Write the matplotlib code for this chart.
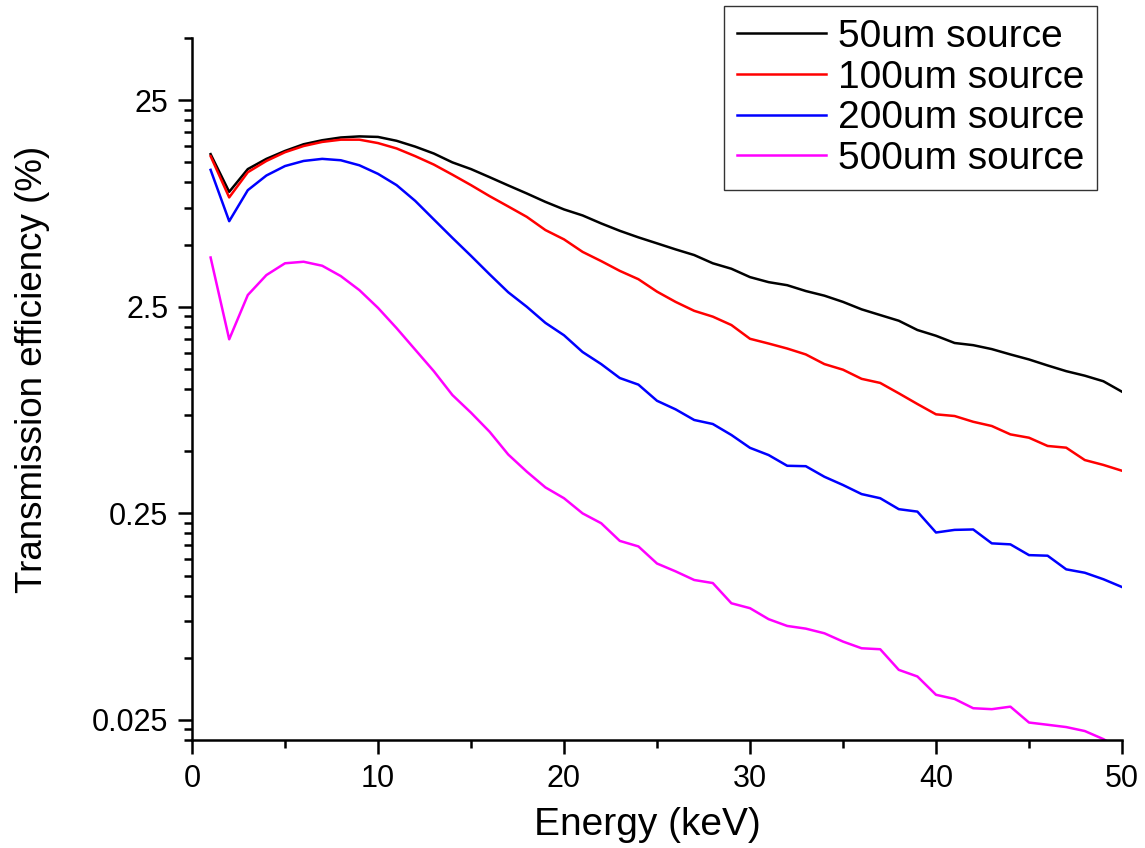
import matplotlib
matplotlib.use('Agg')
import matplotlib.pyplot as plt
from matplotlib.ticker import FixedLocator, NullFormatter

plt.rcParams['font.family'] = ['Liberation Sans', 'DejaVu Sans']

energy = list(range(1, 51))

src_50um = [13.7, 9.0, 11.6, 13.0, 14.2, 15.3, 16.0, 16.5, 16.7, 16.6,
            15.9, 14.9, 13.8, 12.5, 11.6, 10.6, 9.67, 8.84, 8.05, 7.40,
            6.92, 6.33, 5.83, 5.42, 5.07, 4.74, 4.45, 4.06, 3.82, 3.48,
            3.29, 3.18, 2.98, 2.83, 2.64, 2.43, 2.28, 2.14, 1.93, 1.81,
            1.67, 1.63, 1.56, 1.47, 1.39, 1.30, 1.22, 1.16, 1.09, 0.970]

src_100um = [13.4, 8.46, 11.2, 12.7, 14.0, 15.0, 15.7, 16.1, 16.1, 15.5,
             14.6, 13.4, 12.2, 10.9, 9.70, 8.58, 7.65, 6.81, 5.88, 5.30,
             4.61, 4.16, 3.73, 3.40, 2.96, 2.64, 2.39, 2.24, 2.04, 1.75,
             1.66, 1.57, 1.47, 1.32, 1.24, 1.12, 1.07, 0.953, 0.846, 0.754,
             0.740, 0.694, 0.662, 0.603, 0.581, 0.530, 0.520, 0.453, 0.429, 0.402]

src_200um = [11.5, 6.49, 9.17, 10.8, 12.0, 12.7, 13.0, 12.8, 12.1, 11.0,
             9.70, 8.14, 6.62, 5.39, 4.41, 3.59, 2.94, 2.50, 2.09, 1.82,
             1.51, 1.32, 1.13, 1.05, 0.877, 0.797, 0.708, 0.677, 0.599, 0.519,
             0.479, 0.425, 0.423, 0.376, 0.343, 0.310, 0.296, 0.262, 0.255, 0.202,
             0.208, 0.209, 0.179, 0.177, 0.157, 0.156, 0.134, 0.129, 0.120, 0.110]

src_500um = [4.33, 1.74, 2.85, 3.56, 4.06, 4.13, 3.95, 3.52, 3.01, 2.47,
             1.97, 1.55, 1.22, 0.935, 0.768, 0.621, 0.482, 0.398, 0.334, 0.296,
             0.250, 0.224, 0.184, 0.173, 0.143, 0.131, 0.119, 0.115, 0.0918, 0.0869,
             0.0769, 0.0713, 0.0692, 0.0657, 0.0599, 0.0556, 0.0550, 0.0437, 0.0406, 0.0331,
             0.0316, 0.0285, 0.0282, 0.0290, 0.0243, 0.0237, 0.0231, 0.0221, 0.0202, 0.0179]

series = [src_50um, src_100um, src_200um, src_500um]
labels = ['50um source', '100um source', '200um source', '500um source']
colors = ['#000000', '#FF0000', '#0000FF', '#FF00FF']

y_ticks = [0.025, 0.25, 2.5, 25]
y_ticklabels = ['0.025', '0.25', '2.5', '25']

fig = plt.figure(figsize=(11.45, 8.48), dpi=100)
ax = fig.add_axes([192 / 1145, 1 - 740 / 848, (1122 - 192) / 1145, (740 - 38) / 848])

for vals, lab, col in zip(series, labels, colors):
    ax.plot(energy, vals, color=col, lw=1.8, label=lab)

ax.set_yscale('log')
ax.set_xlim(0, 50)
ax.set_ylim(0.02, 50)

ax.yaxis.set_major_locator(FixedLocator(y_ticks))
ax.set_yticklabels(y_ticklabels)
# minor ticks every 2.5 x 10^n, like the original plot
minor = [k * t / 10 for t in [0.025, 0.25, 2.5, 25] for k in range(2, 10)] + [50]
ax.yaxis.set_minor_locator(FixedLocator(minor))
ax.yaxis.set_minor_formatter(NullFormatter())

ax.set_xticks([0, 10, 20, 30, 40, 50])
ax.set_xticks([5, 15, 25, 35, 45], minor=True)

for s in ['top', 'right']:
    ax.spines[s].set_visible(False)
for s in ['left', 'bottom']:
    ax.spines[s].set_linewidth(1.8)

ax.tick_params(which='major', direction='out', length=10, width=1.8,
               labelsize=22, pad=7)
ax.tick_params(which='minor', direction='out', length=5.5, width=1.8)

ax.set_xlabel('Energy (keV)', fontsize=28)
ax.set_ylabel('Transmission efficiency (%)', fontsize=26.5)
ax.xaxis.set_label_coords(0.49, -0.096)
ax.yaxis.set_label_coords(-0.153, 0.528)

leg = ax.legend(loc='upper right', bbox_to_anchor=(1097 / 1145, 1 - 6 / 848),
                bbox_transform=fig.transFigure, borderaxespad=0,
                fontsize=28, fancybox=False, edgecolor='black',
                handlelength=2.3, handletextpad=0.3, labelspacing=0.12,
                borderpad=0.33)
leg.get_frame().set_linewidth(1.0)
for line in leg.get_lines():
    line.set_linewidth(1.8)

fig.savefig('out.png', dpi=100)
